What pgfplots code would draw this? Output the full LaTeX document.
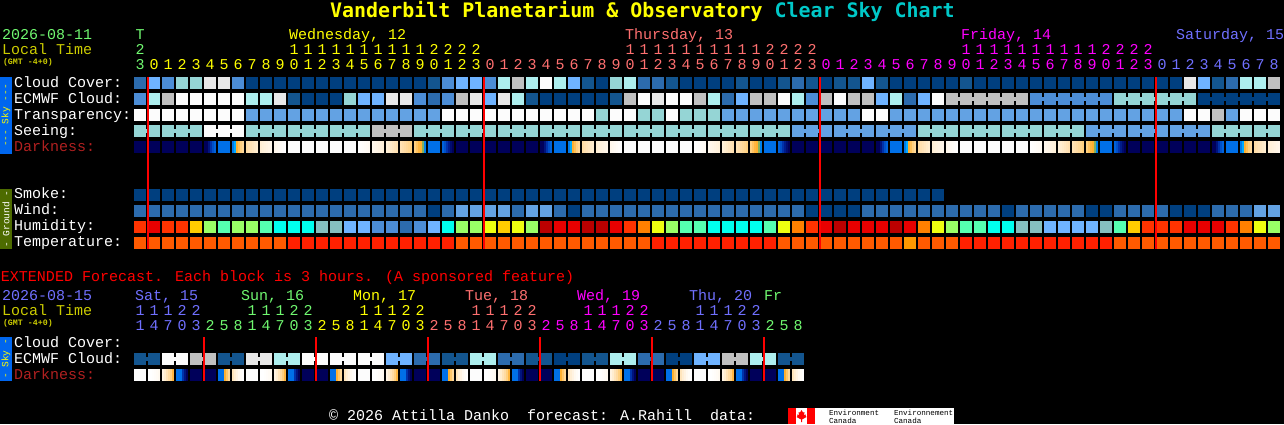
\documentclass[border=0pt]{standalone}
\usepackage{fontspec}
\setmainfont{Liberation Mono}
\newfontfamily\titlefont[BoldFont={DejaVu Sans Mono Bold}]{DejaVu Sans Mono}
\usepackage{pgfplots}
\usepackage{pgfplotstable}
\pgfplotsset{compat=1.18}
\definecolor{cA}{HTML}{003F7F}\definecolor{cB}{HTML}{13558F}\definecolor{cC}{HTML}{2C6BAD}
\definecolor{cD}{HTML}{4C8DD6}\definecolor{cE}{HTML}{6FB3FF}\definecolor{cF}{HTML}{95D5D5}
\definecolor{cG}{HTML}{ADEEEE}\definecolor{cH}{HTML}{C0C0C0}\definecolor{cI}{HTML}{E8E8E8}
\definecolor{cJ}{HTML}{FCFCFC}\definecolor{cK}{HTML}{63A2E3}
\definecolor{cL}{HTML}{FF3300}\definecolor{cM}{HTML}{E80000}\definecolor{cN}{HTML}{BB0000}
\definecolor{cO}{HTML}{FF8000}\definecolor{cP}{HTML}{FFCC00}\definecolor{cQ}{HTML}{EEFF10}
\definecolor{cR}{HTML}{99FF66}\definecolor{cS}{HTML}{55FFB0}\definecolor{cT}{HTML}{00FFEE}
\definecolor{cU}{HTML}{85BFBF}\definecolor{cV}{HTML}{FF5A00}\definecolor{cW}{HTML}{FF2000}
\definecolor{cX}{HTML}{FF9900}\definecolor{cy}{HTML}{00005A}\definecolor{cz}{HTML}{0070E8}
\definecolor{dayG}{HTML}{70F870}\definecolor{dayY}{HTML}{FFFF00}\definecolor{dayR}{HTML}{FF7070}
\definecolor{dayM}{HTML}{FF00FF}\definecolor{dayB}{HTML}{7070FF}\definecolor{olive}{HTML}{CCCC00}
\definecolor{dkred}{HTML}{B02020}\definecolor{skybar}{HTML}{0066EE}\definecolor{grbar}{HTML}{4D6B00}
\definecolor{clearsky}{HTML}{00C8C8}\definecolor{pureR}{HTML}{FF0000}
\pgfdeclareplotmark{blk}{\pgfpathrectangle{\pgfpoint{-6pt}{-6pt}}{\pgfpoint{12pt}{12pt}}\pgfusepathqfill}
\pgfdeclareplotmark{brg}{\pgfpathrectangle{\pgfpoint{-1.2pt}{-2pt}}{\pgfpoint{2.4pt}{4pt}}\pgfusepathqfill}
\pgfdeclareplotmark{stp}{\pgfpathrectangle{\pgfpoint{-1pt}{-6pt}}{\pgfpoint{2.2pt}{12pt}}\pgfusepathqfill}
\pgfplotsset{
  colormap={dark}{rgb255(0)=(0,0,90) rgb255(10)=(0,40,160) rgb255(20)=(0,90,210) rgb255(25)=(0,112,232)
    rgb255(30)=(0,130,235) rgb255(35)=(0,170,255) rgb255(40)=(130,176,96) rgb255(45)=(255,176,48)
    rgb255(55)=(255,208,128) rgb255(65)=(255,224,176) rgb255(75)=(255,240,216) rgb255(85)=(255,247,236)
    rgb255(100)=(255,255,255)},
  palette/.style={scatter, only marks, point meta=explicit symbolic,
    scatter/classes={A={color=cA},B={color=cB},C={color=cC},D={color=cD},E={color=cE},F={color=cF},
      G={color=cG},H={color=cH},I={color=cI},J={color=cJ},K={color=cK},L={color=cL},M={color=cM},
      N={color=cN},O={color=cO},P={color=cP},Q={color=cQ},R={color=cR},S={color=cS},T={color=cT},
      U={color=cU},V={color=cV},W={color=cW},X={color=cX},y={color=cy},z={color=cz},o={color=black}}},
  cellrow/.style={palette, mark=blk},
  bridgerow/.style={palette, mark=brg},
  stripes/.style={scatter, only marks, mark=stp, point meta=explicit, colormap name=dark},
}
% hourly cells: class of each row per block
\pgfplotstableread{
x cl ec eb tr se sb sm wi hu te da
140 C D o J F F A C L V y
154 E G o J F o A C M V y
168 D H o J F F A C L V y
182 F J o J F F A C L V y
196 F J o J F o A C P V y
210 I J o J J J A C R V o
224 I J o J J J A C S V z
238 D J o J J o A C R V o
252 A G o K F F A C R V o
266 A G o K F F A C S V o
280 A I o K F o A C T V o
294 A B o K F F A C T W J
308 A A o K F F A C T W J
322 A A o K F o A C U W J
336 A A o K F F A C U W J
350 A F o K F F A C E W J
364 A E o K F o A C E W o
378 A E o K H H A C D W o
392 A I o K H H A C D W o
406 A I o K H o A C C W o
420 A D o K F F A C D W o
434 B C o K F F A A E W z
448 D D o J F o A C T W o
462 E H o J F F A K R V y
476 E I o J F F A K R V y
490 D E o J F o A K Q V y
504 G I o J F F A K P V y
518 H G o J F F A C Q V y
532 G B o J F o A K R V y
546 J A o J F F A K N V o
560 G A o J F F A C M V z
574 E A o J F o A A M V o
588 B A o J F F A C N V o
602 A A o F F F A C N V o
616 F B o J F o A C M V o
630 G H o J F F A C L V J
644 C J o F F F A C O V J
658 C I o F F o A C Q W J
672 B J o J F F A C R W J
686 A J o F F F A C S W J
700 A H o F F o A C S W o
714 A G o F F F A C T W o
728 A C o K F F A C T W o
742 B E o K F o A C T W o
756 A H o K F F A C T W o
770 A H o K F F A C S W z
784 B J o K F o A C Q V o
798 C G o K K K A C O V y
812 B D o K K K A A L V y
826 A H o K K o A A M V y
840 B J o K K K A A N V y
854 B H o K K K A A M V y
868 E H o J K o A C M V y
882 B E o J K K A C M V o
896 A G o K K K A C N V z
910 A C o K K o A C M X o
924 A E o K F F A C O V o
938 A J o K F F A C Q V o
952 A H H K F o o C R V o
966 B H H K F F o C S W J
980 A H H K F F o C S W J
994 A H H K F o o C T W J
1008 A H H K F F o A T W J
1022 A H o K F F o C U W J
1036 A D D K F o o C U W o
1050 A D D K F F o C E W o
1064 A D D K F F o C E W o
1078 A D D K F o o C E W o
1092 A D D K K K o A E W o
1106 A D o K K K o A U W z
1120 A F F K K o o C S V o
1134 A F F K K K o C P V y
1148 A F F K K K o C L V y
1162 A F F K K o o C L V y
1176 A F F K K K o A L V y
1190 I F o J K K o A M V y
1204 E A A J K o o A M V y
1218 B A A H F F o C M V o
1232 C A A K F F o C L V z
1246 G A A J F o o C O V o
1260 G A A J F F o K Q V o
1274 H A o J F o o K R V o
}\hourly
% extended forecast: 3-hour blocks
\pgfplotstableread{
x ec eb da
140 B B J
154 B o o
168 J J o
182 J o o
196 H H y
210 H o y
224 B B o
238 B o o
252 I I J
266 I o o
280 G G o
294 G o o
308 J J y
322 J o y
336 J J o
350 J o o
364 J J J
378 J o o
392 E E o
406 E o o
420 C C y
434 C o y
448 B B o
462 B o o
476 G G J
490 G o o
504 C C o
518 C o o
532 B B y
546 B o y
560 A A o
574 A o o
588 B B J
602 B o o
616 G G o
630 G o o
644 C C y
658 C o y
672 A A o
686 A o o
700 E E J
714 E o o
728 H H o
742 H o o
756 G G y
770 G o y
784 B B o
798 B o o
}\extended
% darkness profile, 2 px stripes, level 0 (night) to 100 (day)
\pgfplotstableread{
x d
205 0
207 0
209 5
211 12
213 18
215 22
233 28
235 35
237 45
239 50
241 55
243 60
247 63
249 65
251 67
253 69
255 71
257 73
261 74
263 76
265 78
267 80
269 82
271 84
275 85
277 88
279 91
281 94
283 97
285 100
}\dawnprofile
\pgfplotstableread{
x d
359 100
361 98
363 96
365 94
367 92
369 90
373 86
375 84
377 82
379 80
381 78
383 76
387 75
389 73
391 71
393 69
395 67
397 65
401 66
403 64
405 62
407 60
409 58
411 55
415 55
417 51
419 47
421 45
423 40
425 30
443 22
445 18
447 12
449 7
451 3
453 0
}\duskprofile
\pgfplotstableread{
x d
149 100
151 100
153 98
155 95
157 92
159 88
163 80
165 73
167 67
169 62
171 55
173 47
177 25
179 25
181 25
183 12
185 5
187 0
219 25
221 25
223 25
225 45
227 52
229 60
233 68
235 74
237 80
239 88
241 94
243 99
}\extprofile
\tikzset{txt/.style={inner sep=0pt,outer sep=0pt,anchor=base west,text=white,font=\fontsize{15}{15}\selectfont},
  dig/.style={inner sep=0pt,outer sep=0pt,anchor=base,font=\fontsize{15}{15}\selectfont}}
\newcommand\Row[4]{\foreach \d [count=\n from #3] in {#4} {\node[dig,text=#2] at ({140+14*\n},#1) {\d};}}
\begin{document}
\begin{tikzpicture}
\fill[black] (0,0) rectangle (1284pt,424pt);
\useasboundingbox (0,0) rectangle (1284pt,424pt);
\begin{axis}[at={(0pt,0pt)},anchor=south west,scale only axis,width=1284pt,height=424pt,
  xmin=0,xmax=1284,ymin=0,ymax=424,y dir=reverse,hide axis,point meta min=0,point meta max=100,
  clip mode=individual]
\addplot[cellrow] table[x=x,y expr=83,meta=cl]{\hourly};
\addplot[cellrow] table[x=x,y expr=99,meta=ec]{\hourly};
\addplot[bridgerow] table[x expr=\thisrow{x}+7,y expr=99,meta=eb]{\hourly};
\addplot[cellrow] table[x=x,y expr=115,meta=tr]{\hourly};
\addplot[cellrow] table[x=x,y expr=131,meta=se]{\hourly};
\addplot[bridgerow] table[x expr=\thisrow{x}+7,y expr=131,meta=sb]{\hourly};
\addplot[cellrow] table[x=x,y expr=147,meta=da]{\hourly};
\addplot[cellrow] table[x=x,y expr=195,meta=sm]{\hourly};
\addplot[cellrow] table[x=x,y expr=211,meta=wi]{\hourly};
\addplot[cellrow] table[x=x,y expr=227,meta=hu]{\hourly};
\addplot[cellrow] table[x=x,y expr=243,meta=te]{\hourly};
\pgfplotsinvokeforeach{0,336,672,1008}{
  \addplot[stripes,restrict x to domain=0:1280] table[x expr=\thisrow{x}+#1,y expr=147,meta=d]{\dawnprofile};}
\pgfplotsinvokeforeach{0,336,672}{
  \addplot[stripes] table[x expr=\thisrow{x}+#1,y expr=147,meta=d]{\duskprofile};}
\addplot[cellrow] table[x=x,y expr=359,meta=ec]{\extended};
\addplot[bridgerow] table[x expr=\thisrow{x}+7,y expr=359,meta=eb]{\extended};
\addplot[cellrow] table[x=x,y expr=375,meta=da]{\extended};
\pgfplotsinvokeforeach{0,112,224,336,448,560}{
  \addplot[stripes] table[x expr=\thisrow{x}+#1,y expr=375,meta=d]{\extprofile};}
\addplot[pureR,line width=2pt] coordinates {(148,77)(148,249)};
\addplot[pureR,line width=2pt] coordinates {(484,77)(484,249)};
\addplot[pureR,line width=2pt] coordinates {(820,77)(820,249)};
\addplot[pureR,line width=2pt] coordinates {(1156,77)(1156,249)};
\addplot[pureR,line width=2pt] coordinates {(204,337)(204,381)};
\addplot[pureR,line width=2pt] coordinates {(316,337)(316,381)};
\addplot[pureR,line width=2pt] coordinates {(428,337)(428,381)};
\addplot[pureR,line width=2pt] coordinates {(540,337)(540,381)};
\addplot[pureR,line width=2pt] coordinates {(652,337)(652,381)};
\addplot[pureR,line width=2pt] coordinates {(764,337)(764,381)};
\end{axis}
\begin{scope}[x=1pt,y=-1pt,yshift=424pt]
% title
\node[inner sep=0pt,anchor=base west,font=\titlefont\bfseries\fontsize{19.95}{20}\selectfont] at (330,18)
  {\textcolor{dayY}{Vanderbilt Planetarium \& Observatory} \textcolor{clearsky}{Clear Sky Chart}};
% header left
\node[txt,text=dayG] at (2,40) {2026-08-11};
\node[txt,text=olive] at (2,55) {Local Time};
\node[txt,text=olive,font=\bfseries\fontsize{8.3}{8.3}\selectfont] at (3,65) {(GMT -4+0)};
\node[dig,text=dayG] at (140,40) {T};
\node[txt,text=dayY] at (289,40) {Wednesday, 12};
\node[txt,text=dayR] at (625,40) {Thursday, 13};
\node[txt,text=dayM] at (961,40) {Friday, 14};
\node[txt,text=dayB] at (1176,40) {Saturday, 15};
% hours
\Row{55}{dayG}{0}{2}
\Row{70}{dayG}{0}{3}
\Row{55}{dayY}{11}{1,1,1,1,1,1,1,1,1,1,2,2,2,2}
\Row{70}{dayY}{1}{0,1,2,3,4,5,6,7,8,9,0,1,2,3,4,5,6,7,8,9,0,1,2,3}
\Row{55}{dayR}{35}{1,1,1,1,1,1,1,1,1,1,2,2,2,2}
\Row{70}{dayR}{25}{0,1,2,3,4,5,6,7,8,9,0,1,2,3,4,5,6,7,8,9,0,1,2,3}
\Row{55}{dayM}{59}{1,1,1,1,1,1,1,1,1,1,2,2,2,2}
\Row{70}{dayM}{49}{0,1,2,3,4,5,6,7,8,9,0,1,2,3,4,5,6,7,8,9,0,1,2,3}
\Row{70}{dayB}{73}{0,1,2,3,4,5,6,7,8}
% row labels
\node[txt] at (14,87) {Cloud Cover:};
\node[txt] at (14,103) {ECMWF Cloud:};
\node[txt] at (14,119) {Transparency:};
\node[txt] at (14,135) {Seeing:};
\node[txt,text=dkred] at (14,151) {Darkness:};
\node[txt] at (14,198) {Smoke:};
\node[txt] at (14,214) {Wind:};
\node[txt] at (14,230) {Humidity:};
\node[txt] at (14,246) {Temperature:};
% side bars
\fill[skybar] (0,77) rectangle (12,154);
\node[rotate=90,inner sep=0pt,text=dayY,font=\fontsize{9.5}{9.5}\selectfont] at (6,115.5) {{-}{-}{-} Sky {-}{-}{-}};
\fill[grbar] (0,189) rectangle (12,249);
\node[rotate=90,inner sep=0pt,text=white,font=\fontsize{9.5}{9.5}\selectfont] at (6,219) {{-} Ground {-}};
\fill[skybar] (0,337) rectangle (12,381);
\node[rotate=90,inner sep=0pt,text=dayY,font=\fontsize{9.5}{9.5}\selectfont] at (6,359) {{-} Sky {-}};
% extended
\node[txt,text=pureR] at (1,281) {EXTENDED Forecast. Each block is 3 hours. (A sponsored feature)};
\node[txt,text=dayB] at (2,300) {2026-08-15};
\node[txt,text=olive] at (2,315) {Local Time};
\node[txt,text=olive,font=\bfseries\fontsize{8.3}{8.3}\selectfont] at (3,325) {(GMT -4+0)};
\node[txt,text=dayB] at (135,300) {Sat, 15};
\node[txt,text=dayG] at (241,300) {Sun, 16};
\node[txt,text=dayY] at (353,300) {Mon, 17};
\node[txt,text=dayR] at (465,300) {Tue, 18};
\node[txt,text=dayM] at (577,300) {Wed, 19};
\node[txt,text=dayB] at (689,300) {Thu, 20};
\node[txt,text=dayG] at (764,300) {Fr};
\Row{315}{dayB}{0}{1,1,1,2,2}
\Row{330}{dayB}{0}{1,4,7,0,3}
\Row{315}{dayG}{8}{1,1,1,2,2}
\Row{330}{dayG}{5}{2,5,8,1,4,7,0,3}
\Row{315}{dayY}{16}{1,1,1,2,2}
\Row{330}{dayY}{13}{2,5,8,1,4,7,0,3}
\Row{315}{dayR}{24}{1,1,1,2,2}
\Row{330}{dayR}{21}{2,5,8,1,4,7,0,3}
\Row{315}{dayM}{32}{1,1,1,2,2}
\Row{330}{dayM}{29}{2,5,8,1,4,7,0,3}
\Row{315}{dayB}{40}{1,1,1,2,2}
\Row{330}{dayB}{37}{2,5,8,1,4,7,0,3}
\Row{330}{dayG}{45}{2,5,8}
\node[txt] at (14,347) {Cloud Cover:};
\node[txt] at (14,363) {ECMWF Cloud:};
\node[txt,text=dkred] at (14,379) {Darkness:};
% footer
\node[txt] at (329,420) {© 2026 Attilla Danko\ \ forecast: A.Rahill\ \ data:};
\fill[white] (796,408) rectangle (954,424);
\fill[pureR] (788,408) rectangle (796,424);
\fill[pureR] (807,408) rectangle (815,424);
\fill[pureR] (801.5,410) -- (803,412.5) -- (804.5,412) -- (804,415) -- (806,414.5) -- (805.5,416) -- (806.5,417) -- (802,419.5) -- (802,422) -- (801,422) -- (801,419.5) -- (796.5,417) -- (797.5,416) -- (797,414.5) -- (799,415) -- (798.5,412) -- (800,412.5) -- cycle;
\node[txt,text=black,font=\fontsize{7.6}{7.6}\selectfont] at (829,415) {Environment};
\node[txt,text=black,font=\fontsize{7.6}{7.6}\selectfont] at (829,423) {Canada};
\node[txt,text=black,font=\fontsize{7.6}{7.6}\selectfont] at (894,415) {Environnement};
\node[txt,text=black,font=\fontsize{7.6}{7.6}\selectfont] at (894,423) {Canada};
\end{scope}
\end{tikzpicture}
\end{document}
